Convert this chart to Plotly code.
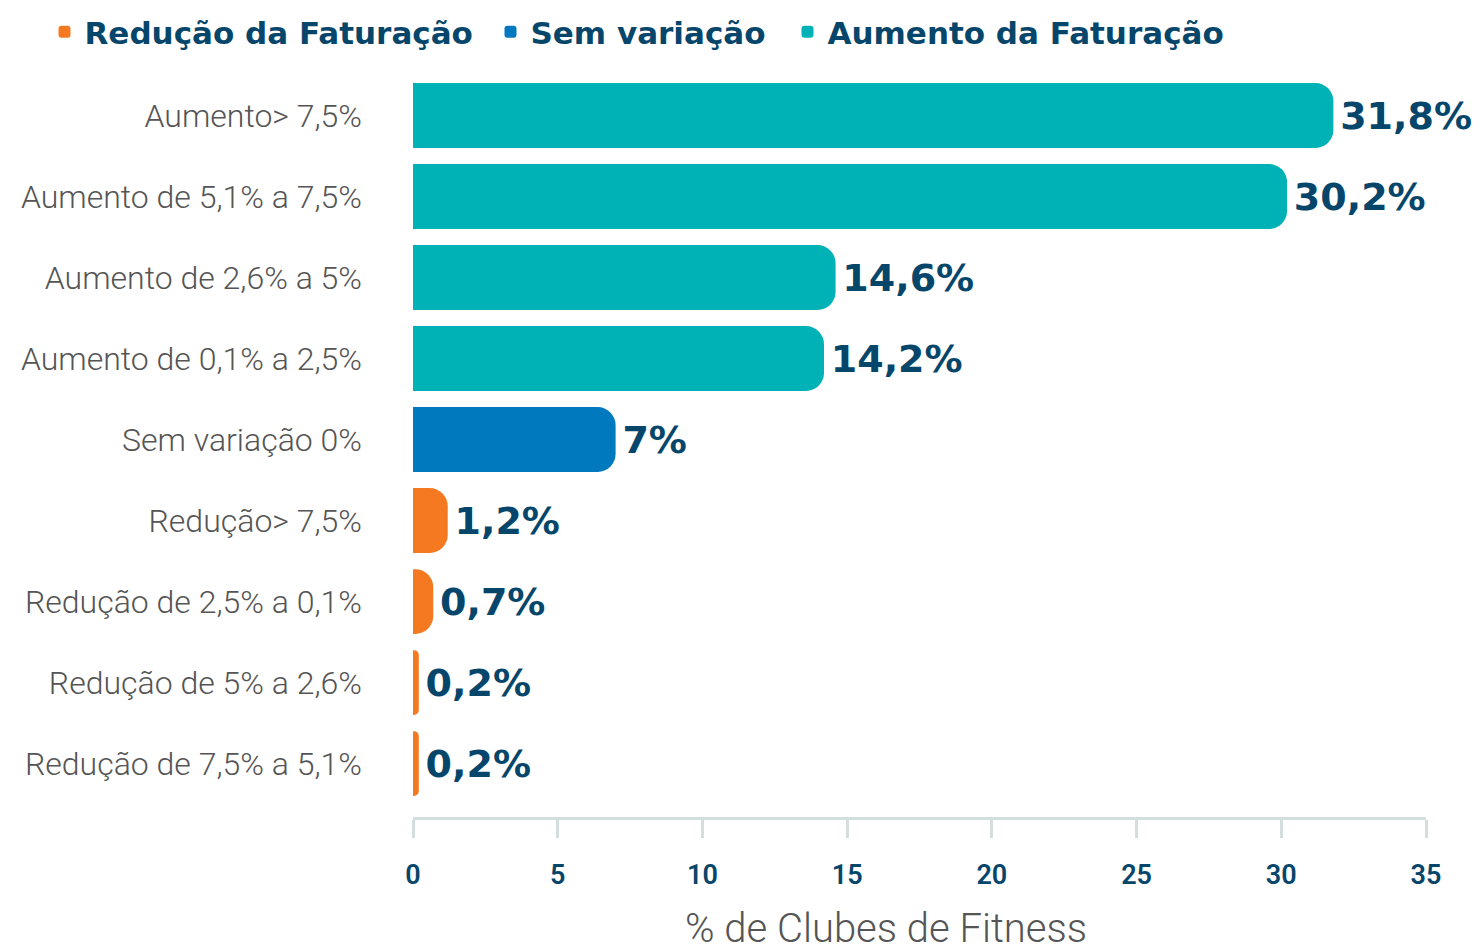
import plotly.graph_objects as go

categories = [
    "Aumento> 7,5%",
    "Aumento de 5,1% a 7,5%",
    "Aumento de 2,6% a 5%",
    "Aumento de 0,1% a 2,5%",
    "Sem variação 0%",
    "Redução> 7,5%",
    "Redução de 2,5% a 0,1%",
    "Redução de 5% a 2,6%",
    "Redução de 7,5% a 5,1%",
]
values = [31.8, 30.2, 14.6, 14.2, 7, 1.2, 0.7, 0.2, 0.2]
groups = ["Aumento da Faturação"] * 4 + ["Sem variação"] + ["Redução da Faturação"] * 4
group_order = ["Redução da Faturação", "Sem variação", "Aumento da Faturação"]
group_colors = {"Redução da Faturação": "#f47920",
                "Sem variação": "#0079bf",
                "Aumento da Faturação": "#00b2b5"}
legend_entry_widths = {"Redução da Faturação": 401,
                       "Sem variação": 252,
                       "Aumento da Faturação": 400}
xticks = [0, 5, 10, 15, 20, 25, 30, 35]
axis_title = "% de Clubes de Fitness"

NAVY = "#07466b"
HEAVY = "DejaVu Sans"

def fmt(v):
    s = f"{v:g}".replace(".", ",")
    return "\u200a" + s + "%"

fig = go.Figure()
for g in group_order:
    ys = [c for c, gg in zip(categories, groups) if gg == g]
    xs = [v for v, gg in zip(values, groups) if gg == g]
    fig.add_trace(go.Bar(
        x=xs, y=ys, orientation="h", name=g,
        marker=dict(color=group_colors[g], line=dict(width=0)),
        text=[fmt(v) for v in xs], textposition="outside",
        outsidetextfont=dict(family=HEAVY, size=38, weight="bold", color=NAVY),
        constraintext="none", cliponaxis=False,
        legendwidth=legend_entry_widths[g],
        hoverinfo="x+y",
    ))

W, H = 1472, 943
L, R, T, B = 405, 54, 67, 134
pw = W - L - R
ph = H - T - B
fig.update_layout(
    width=W, height=H,
    margin=dict(l=L, r=R, t=T, b=B, autoexpand=False),
    paper_bgcolor="white", plot_bgcolor="white",
    barmode="relative", bargap=0.2, barcornerradius=18,
    showlegend=True,
    legend=dict(orientation="h", xref="paper", yref="paper",
                x=(36.5 - L) / pw, y=1 + (T - 24) / ph,
                xanchor="left", yanchor="middle",
                font=dict(family=HEAVY, size=31, weight="bold", color=NAVY),
                traceorder="normal"),
    xaxis=dict(range=[0, 35], tickvals=xticks, ticks="outside", ticklen=18,
               tickwidth=3, tickcolor="#d3dede", showline=True, linecolor="#d3dede",
               linewidth=3, showgrid=False, zeroline=False,
               tickfont=dict(family="Roboto", size=27, weight=600, color=NAVY),
               ticklabelstandoff=14),
    yaxis=dict(categoryorder="array", categoryarray=categories,
               range=[8.66, -0.5], showgrid=False, zeroline=False, showline=False,
               ticks="", ticklabelstandoff=50,
               tickfont=dict(family="Roboto", size=32, weight=300, color="#555555")),
    annotations=[dict(text=axis_title, xref="paper", yref="paper",
                      x=0.467, y=-0.150, xanchor="center", yanchor="middle",
                      showarrow=False,
                      font=dict(family="Roboto", size=40, weight=300, color="#555555"))],
)

fig.write_html("out.html")
